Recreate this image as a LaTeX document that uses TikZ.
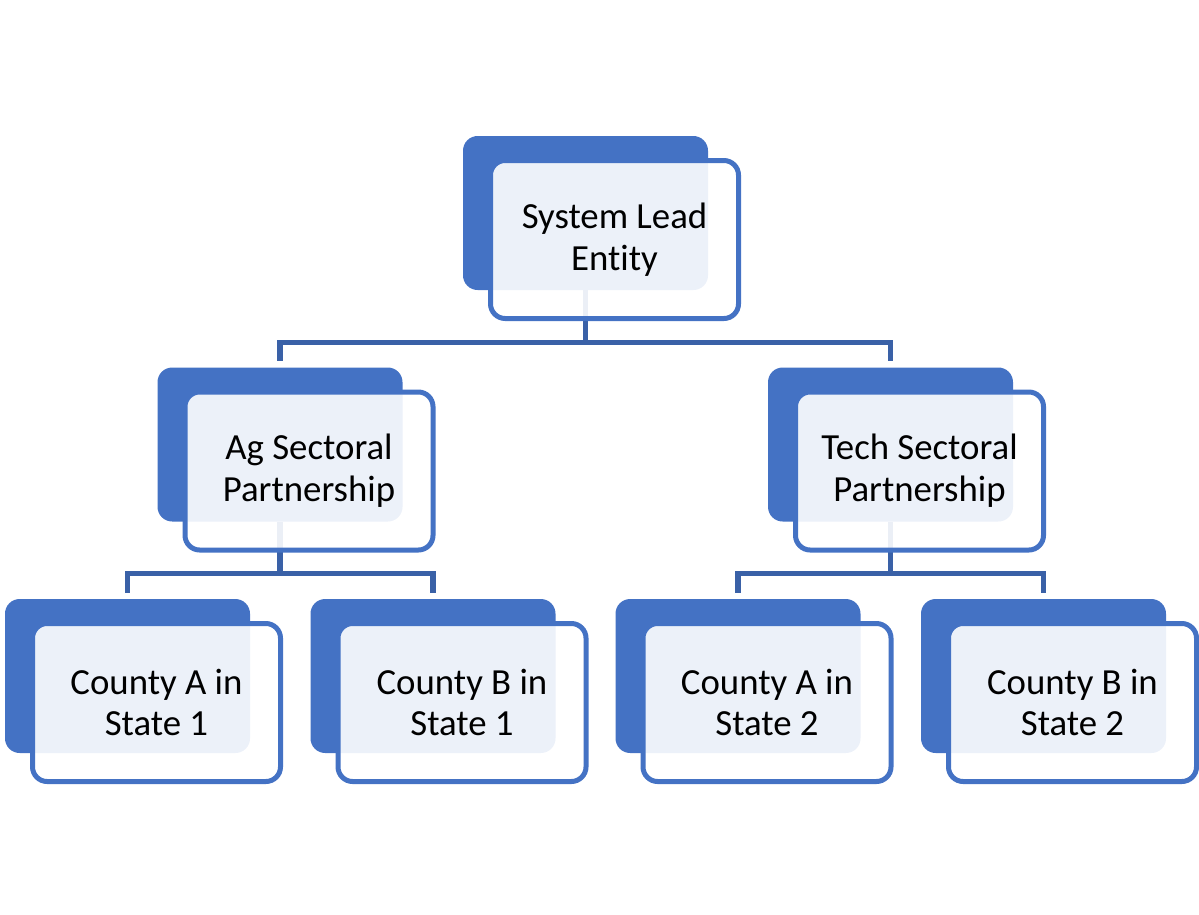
\documentclass[tikz,border=0pt]{standalone}
\usepackage{fontspec}
\setmainfont{Carlito}[Ligatures=NoCommon]
\usepackage{tikz}
\definecolor{accent}{HTML}{4472C4}
\definecolor{linkblue}{HTML}{3A61A7}

\begin{document}
\begin{tikzpicture}[x=0.75pt,y=-0.75pt,
    back/.style={fill=accent,rounded corners=11pt,inner sep=0pt,
      minimum width=183.75pt,minimum height=115.5pt},
    front/.style={draw=accent,line width=3.75pt,fill=white,fill opacity=0.9,
      text opacity=1,rounded corners=11pt,inner sep=0pt,
      minimum width=186pt,minimum height=118.5pt,align=center,
      font=\fontsize{27.6}{31.3}\selectfont},
    link/.style={draw=linkblue,line width=4pt,shorten >=4.5pt}]
  \useasboundingbox (0,0) rectangle (1199,914);
  % back tiles
  \node[back] (top) at (585.5,213) {};
  \node[back] (ag) at (280,444.5) {};
  \node[back] (tech) at (890.5,444.5) {};
  \node[back] (ca1) at (127.5,676) {};
  \node[back] (cb1) at (433,676) {};
  \node[back] (ca2) at (738,676) {};
  \node[back] (cb2) at (1043.5,676) {};
  % connectors
  \draw[link] (top.south) -- ++(0,52) -| (ag.north);
  \draw[link] (top.south) -- ++(0,52) -| (tech.north);
  \draw[link] (ag.south) -- ++(0,52) -| (ca1.north);
  \draw[link] (ag.south) -- ++(0,52) -| (cb1.north);
  \draw[link] (tech.south) -- ++(0,52) -| (ca2.north);
  \draw[link] (tech.south) -- ++(0,52) -| (cb2.north);
  % front tiles with text
  \node[front] (top-f) at ([shift={(29,26.5)}]top) {System Lead\\Entity};
  \node[front] (ag-f) at ([shift={(29,26.5)}]ag) {Ag Sectoral\\Partnership};
  \node[front] (tech-f) at ([shift={(29,26.5)}]tech) {Tech Sectoral\\Partnership};
  \node[front] (ca1-f) at ([shift={(29,26.5)}]ca1) {County A in\\State 1};
  \node[front] (cb1-f) at ([shift={(29,26.5)}]cb1) {County B in\\State 1};
  \node[front] (ca2-f) at ([shift={(29,26.5)}]ca2) {County A in\\State 2};
  \node[front] (cb2-f) at ([shift={(29,26.5)}]cb2) {County B in\\State 2};
\end{tikzpicture}
\end{document}
